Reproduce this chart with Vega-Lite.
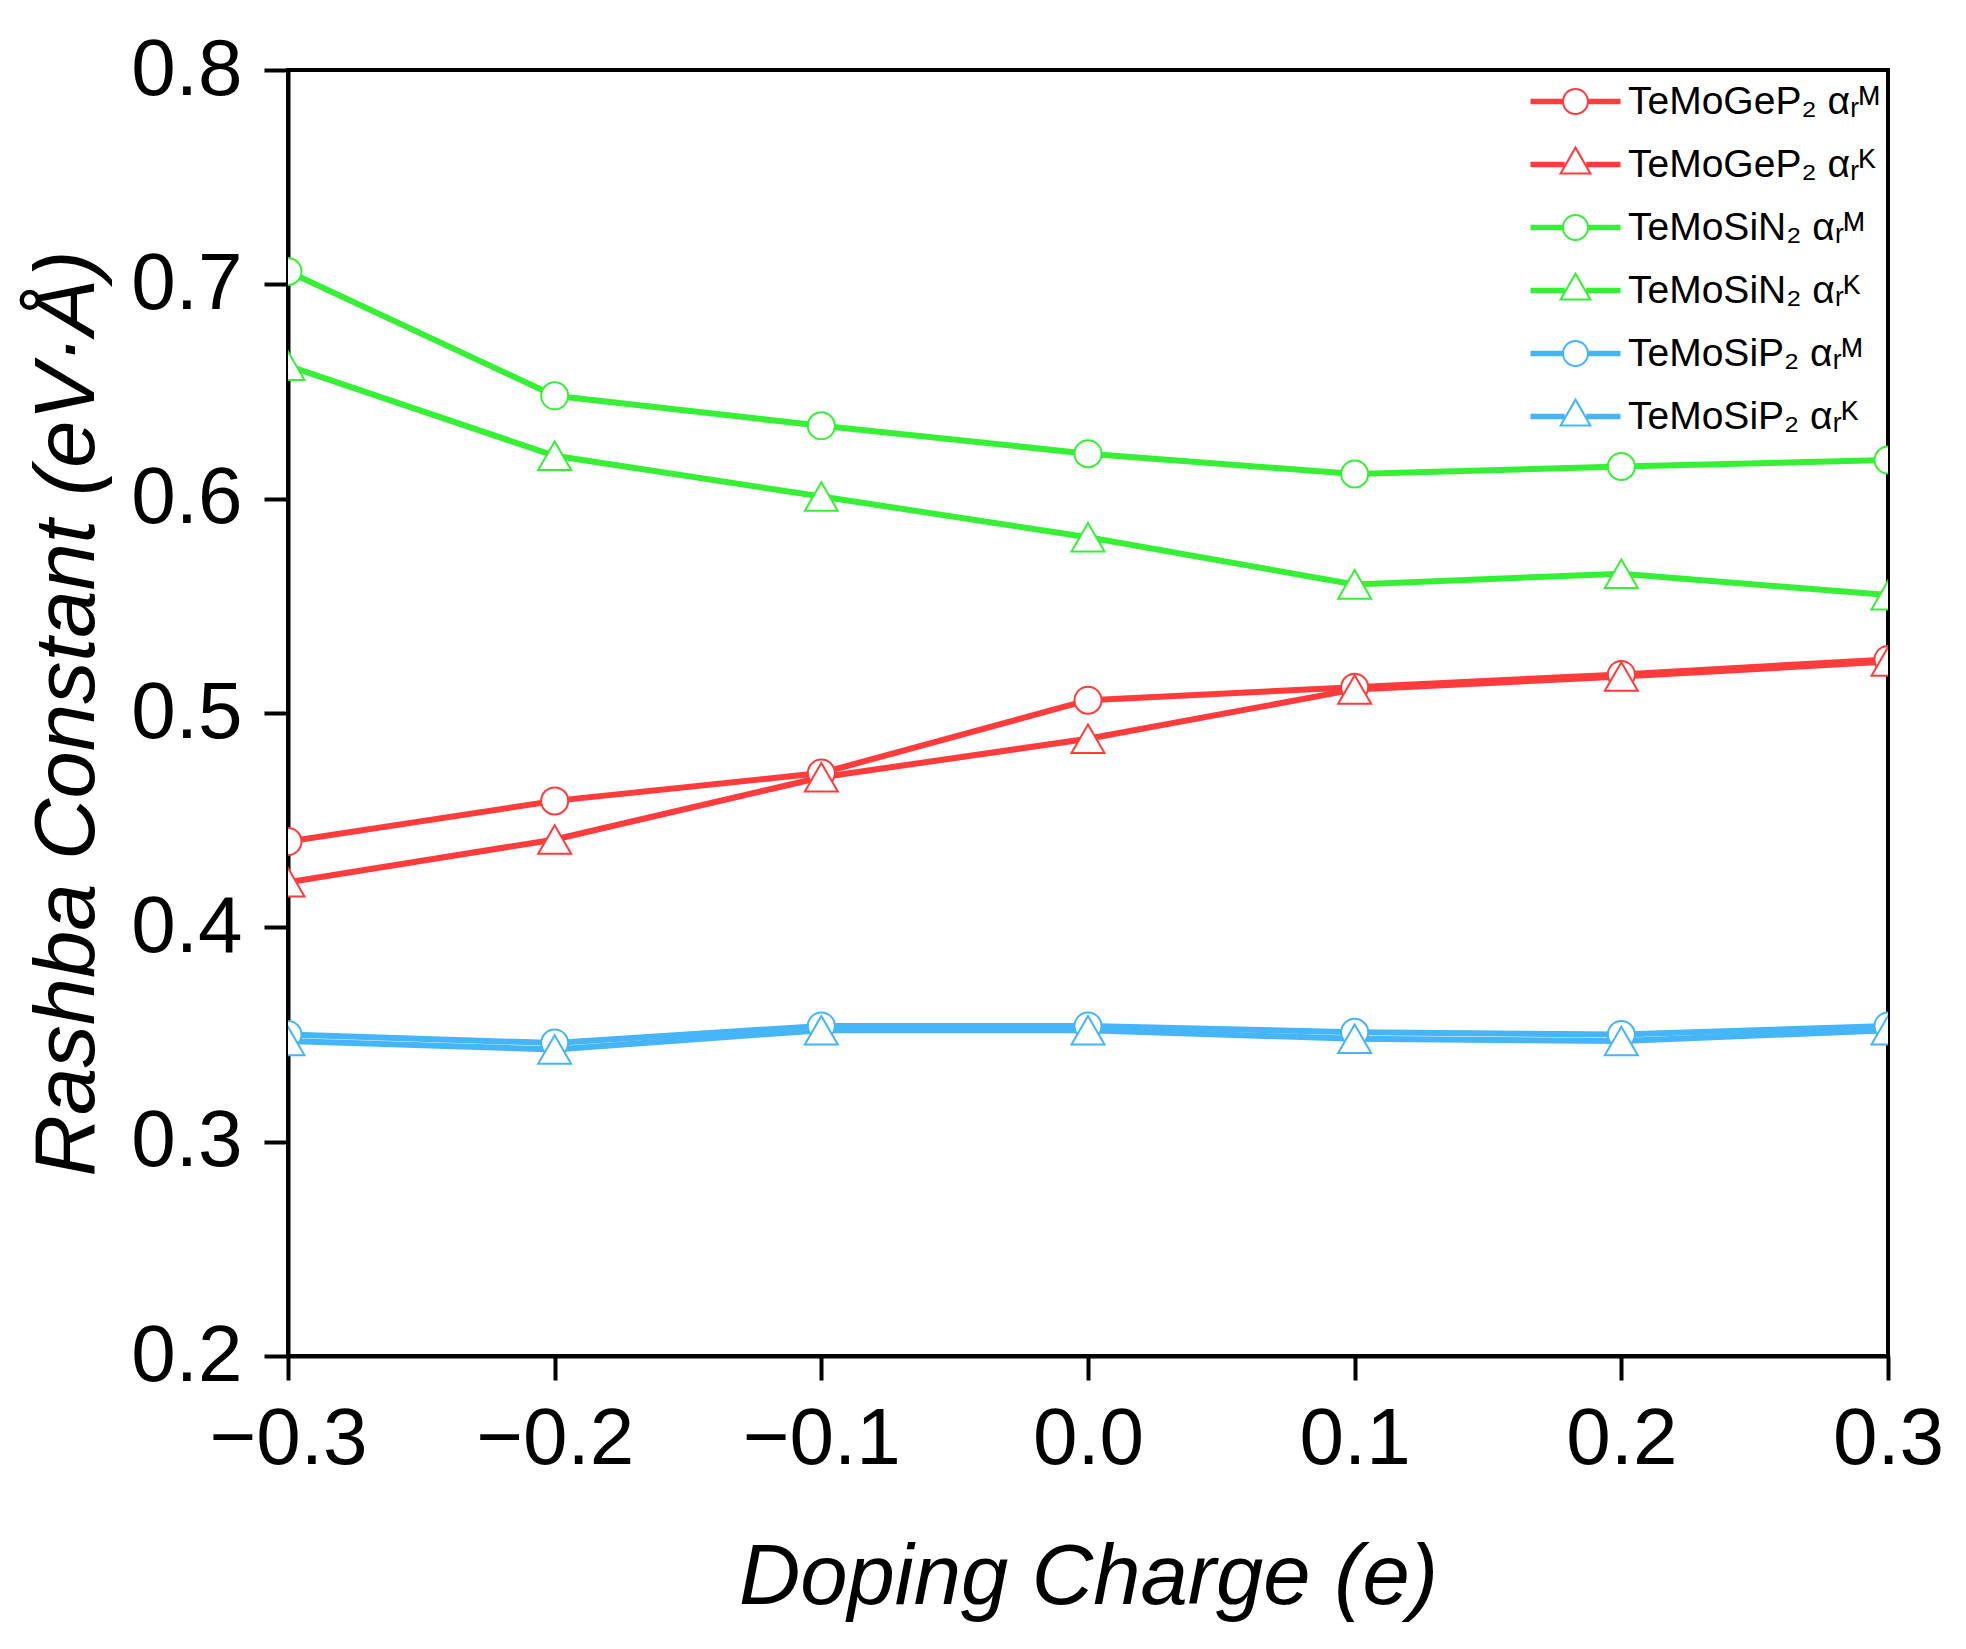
{
  "$schema": "https://vega.github.io/schema/vega-lite/v6.json",
  "width": 1600,
  "height": 1286,
  "autosize": {"type": "none"},
  "padding": {"left": 288, "top": 70, "right": 78, "bottom": 293},
  "background": "white",
  "config": {
    "view": {"stroke": "black", "strokeWidth": 4},
    "font": "Liberation Sans",
    "axis": {
      "grid": false,
      "domainColor": "black",
      "domainWidth": 4,
      "tickColor": "black",
      "tickWidth": 4,
      "tickSize": 24,
      "labelColor": "black",
      "labelFont": "Liberation Sans",
      "labelFontSize": 80,
      "titleFont": "Liberation Sans",
      "titleFontSize": 85,
      "titleFontWeight": "normal",
      "titleFontStyle": "italic",
      "titleColor": "black"
    }
  },
  "data": {
    "values": [
      {"q": -0.3, "r": 0.440, "s": "TeMoGeP₂ αᵣᴹ", "m": "M"},
      {"q": -0.2, "r": 0.459, "s": "TeMoGeP₂ αᵣᴹ", "m": "M"},
      {"q": -0.1, "r": 0.472, "s": "TeMoGeP₂ αᵣᴹ", "m": "M"},
      {"q": 0.0, "r": 0.506, "s": "TeMoGeP₂ αᵣᴹ", "m": "M"},
      {"q": 0.1, "r": 0.512, "s": "TeMoGeP₂ αᵣᴹ", "m": "M"},
      {"q": 0.2, "r": 0.518, "s": "TeMoGeP₂ αᵣᴹ", "m": "M"},
      {"q": 0.3, "r": 0.525, "s": "TeMoGeP₂ αᵣᴹ", "m": "M"},
      {"q": -0.3, "r": 0.421, "s": "TeMoGeP₂ αᵣᴷ", "m": "K"},
      {"q": -0.2, "r": 0.441, "s": "TeMoGeP₂ αᵣᴷ", "m": "K"},
      {"q": -0.1, "r": 0.470, "s": "TeMoGeP₂ αᵣᴷ", "m": "K"},
      {"q": 0.0, "r": 0.488, "s": "TeMoGeP₂ αᵣᴷ", "m": "K"},
      {"q": 0.1, "r": 0.511, "s": "TeMoGeP₂ αᵣᴷ", "m": "K"},
      {"q": 0.2, "r": 0.517, "s": "TeMoGeP₂ αᵣᴷ", "m": "K"},
      {"q": 0.3, "r": 0.524, "s": "TeMoGeP₂ αᵣᴷ", "m": "K"},
      {"q": -0.3, "r": 0.706, "s": "TeMoSiN₂ αᵣᴹ", "m": "M"},
      {"q": -0.2, "r": 0.648, "s": "TeMoSiN₂ αᵣᴹ", "m": "M"},
      {"q": -0.1, "r": 0.634, "s": "TeMoSiN₂ αᵣᴹ", "m": "M"},
      {"q": 0.0, "r": 0.621, "s": "TeMoSiN₂ αᵣᴹ", "m": "M"},
      {"q": 0.1, "r": 0.6115, "s": "TeMoSiN₂ αᵣᴹ", "m": "M"},
      {"q": 0.2, "r": 0.615, "s": "TeMoSiN₂ αᵣᴹ", "m": "M"},
      {"q": 0.3, "r": 0.618, "s": "TeMoSiN₂ αᵣᴹ", "m": "M"},
      {"q": -0.3, "r": 0.662, "s": "TeMoSiN₂ αᵣᴷ", "m": "K"},
      {"q": -0.2, "r": 0.620, "s": "TeMoSiN₂ αᵣᴷ", "m": "K"},
      {"q": -0.1, "r": 0.601, "s": "TeMoSiN₂ αᵣᴷ", "m": "K"},
      {"q": 0.0, "r": 0.582, "s": "TeMoSiN₂ αᵣᴷ", "m": "K"},
      {"q": 0.1, "r": 0.560, "s": "TeMoSiN₂ αᵣᴷ", "m": "K"},
      {"q": 0.2, "r": 0.565, "s": "TeMoSiN₂ αᵣᴷ", "m": "K"},
      {"q": 0.3, "r": 0.555, "s": "TeMoSiN₂ αᵣᴷ", "m": "K"},
      {"q": -0.3, "r": 0.350, "s": "TeMoSiP₂ αᵣᴹ", "m": "M"},
      {"q": -0.2, "r": 0.346, "s": "TeMoSiP₂ αᵣᴹ", "m": "M"},
      {"q": -0.1, "r": 0.354, "s": "TeMoSiP₂ αᵣᴹ", "m": "M"},
      {"q": 0.0, "r": 0.354, "s": "TeMoSiP₂ αᵣᴹ", "m": "M"},
      {"q": 0.1, "r": 0.351, "s": "TeMoSiP₂ αᵣᴹ", "m": "M"},
      {"q": 0.2, "r": 0.350, "s": "TeMoSiP₂ αᵣᴹ", "m": "M"},
      {"q": 0.3, "r": 0.354, "s": "TeMoSiP₂ αᵣᴹ", "m": "M"},
      {"q": -0.3, "r": 0.347, "s": "TeMoSiP₂ αᵣᴷ", "m": "K"},
      {"q": -0.2, "r": 0.343, "s": "TeMoSiP₂ αᵣᴷ", "m": "K"},
      {"q": -0.1, "r": 0.352, "s": "TeMoSiP₂ αᵣᴷ", "m": "K"},
      {"q": 0.0, "r": 0.352, "s": "TeMoSiP₂ αᵣᴷ", "m": "K"},
      {"q": 0.1, "r": 0.348, "s": "TeMoSiP₂ αᵣᴷ", "m": "K"},
      {"q": 0.2, "r": 0.347, "s": "TeMoSiP₂ αᵣᴷ", "m": "K"},
      {"q": 0.3, "r": 0.352, "s": "TeMoSiP₂ αᵣᴷ", "m": "K"}
    ]
  },
  "encoding": {
    "x": {
      "field": "q",
      "type": "quantitative",
      "scale": {"domain": [-0.3, 0.3], "nice": false, "zero": false},
      "axis": {
        "title": "Doping Charge (e)",
        "values": [-0.3, -0.2, -0.1, 0, 0.1, 0.2, 0.3],
        "format": ".1f",
        "labelPadding": 20,
        "labelFlush": false,
        "titleX": 800,
        "titleY": 247,
        "titleAnchor": "middle",
        "titleAlign": "center",
        "titleBaseline": "alphabetic"
      }
    },
    "y": {
      "field": "r",
      "type": "quantitative",
      "scale": {"domain": [0.2, 0.8], "nice": false, "zero": false},
      "axis": {
        "title": "Rashba Constant (eV·Å)",
        "values": [0.2, 0.3, 0.4, 0.5, 0.6, 0.7, 0.8],
        "format": ".1f",
        "labelPadding": 22,
        "labelFlush": false,
        "titleX": -195,
        "titleY": 643,
        "titleAngle": -90,
        "titleAlign": "center",
        "titleBaseline": "alphabetic"
      }
    },
    "color": {
      "field": "s",
      "type": "nominal",
      "scale": {
        "domain": ["TeMoGeP₂ αᵣᴹ", "TeMoGeP₂ αᵣᴷ", "TeMoSiN₂ αᵣᴹ", "TeMoSiN₂ αᵣᴷ", "TeMoSiP₂ αᵣᴹ", "TeMoSiP₂ αᵣᴷ"],
        "range": ["#FF3B3B", "#FF3B3B", "#36F036", "#36F036", "#45B5F7", "#45B5F7"]
      }
    }
  },
  "layer": [
    {
      "mark": {"type": "line", "strokeWidth": 6, "clip": true},
      "encoding": {
        "order": {"field": "q", "type": "quantitative"},
        "color": {
          "field": "s",
          "type": "nominal",
          "legend": {
            "title": null,
            "orient": "none",
            "legendX": 1252,
            "legendY": -4,
            "padding": 0,
            "labelFont": "Liberation Sans",
            "labelFontSize": 39,
            "labelColor": "black",
            "labelLimit": 0,
            "labelOffset": 17,
            "rowPadding": 7,
            "symbolSize": 5000,
            "symbolStrokeWidth": 0,
            "symbolOpacity": 1,
            "encode": {
              "symbols": {
                "update": {
                  "shape": {"signal": "indexof(datum.value, 'ᴷ') >= 0 ? 'M-1.273,-0.0764H-0.3055V0.0764H-1.273Z M0.3055,-0.0764H1.273V0.0764H0.3055Z M0,-0.535L0.471,0.28L-0.471,0.28Z M0,-0.42L-0.372,0.223L0.372,0.223Z' : 'M-1.273,-0.0764H-0.344V0.0764H-1.273Z M0.344,-0.0764H1.273V0.0764H0.344Z M-0.382,0A0.382,0.382 0 1,1 0.382,0A0.382,0.382 0 1,1 -0.382,0Z M-0.325,0A0.325,0.325 0 1,0 0.325,0A0.325,0.325 0 1,0 -0.325,0Z'"},
                  "fill": {"scale": "color", "field": "value"},
                  "fillOpacity": {"value": 1},
                  "strokeWidth": {"value": 0},
                  "size": {"value": 5000},
                  "opacity": {"value": 1}
                }
              }
            }
          }
        }
      }
    },
    {
      "mark": {"type": "point", "filled": false, "fill": "white", "fillOpacity": 1, "opacity": 1, "strokeWidth": 2, "clip": true},
      "encoding": {
        "color": {"field": "s", "type": "nominal", "legend": null},
        "shape": {
          "field": "m",
          "type": "nominal",
          "scale": {"domain": ["M", "K"], "range": ["circle", "triangle-up"]},
          "legend": null
        },
        "size": {
          "field": "m",
          "type": "nominal",
          "scale": {"domain": ["M", "K"], "range": [729, 1089]},
          "legend": null
        }
      }
    }
  ]
}
